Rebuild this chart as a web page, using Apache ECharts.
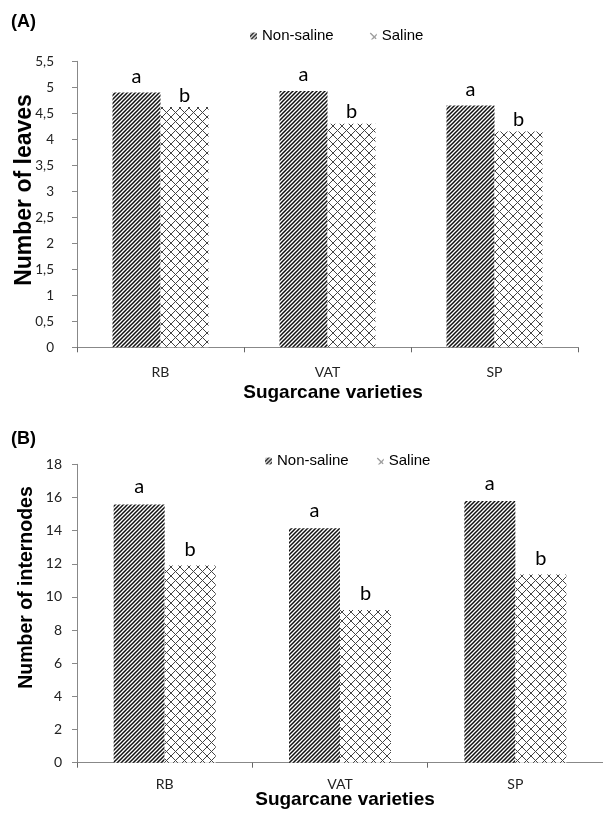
<!DOCTYPE html>
<html>
<head>
<meta charset="utf-8">
<script src="https://cdn.jsdelivr.net/npm/echarts@6/dist/echarts.min.js"></script>
<style>
html,body{margin:0;padding:0;background:#fff;}
#c{width:603px;height:821px;}
</style>
</head>
<body>
<div id="c"></div>
<script>
// ---- data ----
var categories = ['RB', 'VAT', 'SP'];
var seriesNames = ['Non-saline', 'Saline'];
var leavesNonSaline = [4.90, 4.93, 4.65];
var leavesSaline = [4.62, 4.30, 4.15];
var internodesNonSaline = [15.58, 14.14, 15.78];
var internodesSaline = [11.90, 9.21, 11.36];
var lettersNonSaline = ['a', 'a', 'a'];
var lettersSaline = ['b', 'b', 'b'];
var leavesTicks = {min: 0, max: 5.5, interval: 0.5};
var internodesTicks = {min: 0, max: 18, interval: 2};

// ---- patterns ----
function hatchPattern() {
  var s = 4, c = document.createElement('canvas');
  c.width = s; c.height = s;
  var g = c.getContext('2d');
  g.fillStyle = '#fff'; g.fillRect(0, 0, s, s);
  g.strokeStyle = '#111'; g.lineWidth = 1.5;
  for (var k = -1; k <= 1; k++) {
    g.beginPath();
    g.moveTo(k * s - 1, s + 1);
    g.lineTo(k * s + s + 1, -1);
    g.stroke();
  }
  return {image: c, repeat: 'repeat'};
}
function latticePattern() {
  var s = 9, c = document.createElement('canvas');
  c.width = s; c.height = s;
  var g = c.getContext('2d');
  g.fillStyle = '#fff'; g.fillRect(0, 0, s, s);
  g.strokeStyle = '#444'; g.lineWidth = 1;
  g.beginPath(); g.moveTo(0, 0); g.lineTo(s, s); g.stroke();
  g.beginPath(); g.moveTo(0, s); g.lineTo(s, 0); g.stroke();
  return {image: c, repeat: 'repeat'};
}
var patNon = hatchPattern();
var patSal = latticePattern();

var chart = echarts.init(document.getElementById('c'), null, {renderer: 'canvas'});

var tickFont = 'Lato, "Open Sans", sans-serif';
var boldFont = '"Liberation Sans", Arial, sans-serif';
var axisCol = '#888';

function commaFmt(v) { return String(v).replace('.', ','); }

function makeLabel(letters, dist) {
  return {
    show: true, position: 'top', distance: dist,
    fontFamily: tickFont, fontSize: 20, color: '#000',
    formatter: function (p) { return letters[p.dataIndex]; }
  };
}

var option = {
  animation: false,
  backgroundColor: '#fff',
  grid: [
    {left: 77, top: 61.3, width: 501, height: 286},
    {left: 77, top: 464.3, width: 532.5, height: 298.4}
  ],
  legend: [
    {data: seriesNames, left: 245, top: 23.5, itemWidth: 7, itemHeight: 7, itemGap: 36,
     textStyle: {fontFamily: boldFont, fontSize: 15, color: '#000'}},
    {data: seriesNames, left: 260, top: 448.5, itemWidth: 7, itemHeight: 7, itemGap: 28,
     textStyle: {fontFamily: boldFont, fontSize: 15, color: '#000'}}
  ],
  xAxis: [
    {type: 'category', gridIndex: 0, data: categories,
     axisLine: {lineStyle: {color: axisCol}},
     axisTick: {show: true, length: 5, lineStyle: {color: '#666'}},
     axisLabel: {margin: 18, fontFamily: tickFont, fontSize: 14, color: '#222'}},
    {type: 'category', gridIndex: 1, data: categories,
     axisLine: {lineStyle: {color: axisCol}},
     axisTick: {show: true, length: 5, lineStyle: {color: '#666'}},
     axisLabel: {margin: 15, fontFamily: tickFont, fontSize: 14, color: '#222'}}
  ],
  yAxis: [
    {type: 'value', gridIndex: 0, min: leavesTicks.min, max: leavesTicks.max, interval: leavesTicks.interval,
     splitLine: {show: false},
     axisLine: {show: true, lineStyle: {color: axisCol}},
     axisTick: {show: true, length: 5, lineStyle: {color: axisCol}},
     axisLabel: {margin: 23, fontFamily: tickFont, fontSize: 13.5, color: '#222', formatter: commaFmt}},
    {type: 'value', gridIndex: 1, min: internodesTicks.min, max: internodesTicks.max, interval: internodesTicks.interval,
     splitLine: {show: false},
     axisLine: {show: true, lineStyle: {color: axisCol}},
     axisTick: {show: true, length: 5, lineStyle: {color: axisCol}},
     axisLabel: {margin: 15, fontFamily: tickFont, fontSize: 14, color: '#222'}}
  ],
  series: [
    {name: seriesNames[0], type: 'bar', xAxisIndex: 0, yAxisIndex: 0, data: leavesNonSaline,
     barWidth: 48, barGap: '0%', itemStyle: {color: patNon}, label: makeLabel(lettersNonSaline, 6)},
    {name: seriesNames[1], type: 'bar', xAxisIndex: 0, yAxisIndex: 0, data: leavesSaline,
     barWidth: 48, barGap: '0%', itemStyle: {color: patSal}, label: makeLabel(lettersSaline, 2)},
    {name: seriesNames[0], type: 'bar', xAxisIndex: 1, yAxisIndex: 1, data: internodesNonSaline,
     barWidth: 51, barGap: '0%', itemStyle: {color: patNon}, label: makeLabel(lettersNonSaline, 8)},
    {name: seriesNames[1], type: 'bar', xAxisIndex: 1, yAxisIndex: 1, data: internodesSaline,
     barWidth: 51, barGap: '0%', itemStyle: {color: patSal}, label: makeLabel(lettersSaline, 6)}
  ],
  graphic: [
    {type: 'text', left: 11, top: 13, style: {text: '(A)', fontFamily: boldFont, fontWeight: 'bold', fontSize: 18, fill: '#000'}},
    {type: 'text', left: 11, top: 430, style: {text: '(B)', fontFamily: boldFont, fontWeight: 'bold', fontSize: 18, fill: '#000'}},
    {type: 'text', x: 333, y: 393, style: {text: 'Sugarcane varieties', fontFamily: boldFont, fontWeight: 'bold', fontSize: 19, fill: '#000', align: 'center', verticalAlign: 'middle'}},
    {type: 'text', x: 345, y: 800, style: {text: 'Sugarcane varieties', fontFamily: boldFont, fontWeight: 'bold', fontSize: 19, fill: '#000', align: 'center', verticalAlign: 'middle'}},
    {type: 'text', x: 25, y: 190, rotation: Math.PI / 2, style: {text: 'Number of leaves', fontFamily: boldFont, fontWeight: 'bold', fontSize: 23, fill: '#000', align: 'center', verticalAlign: 'middle'}},
    {type: 'text', x: 27, y: 587.5, rotation: Math.PI / 2, style: {text: 'Number of internodes', fontFamily: boldFont, fontWeight: 'bold', fontSize: 19.5, fill: '#000', align: 'center', verticalAlign: 'middle'}}
  ]
};
chart.setOption(option);
</script>
</body>
</html>
